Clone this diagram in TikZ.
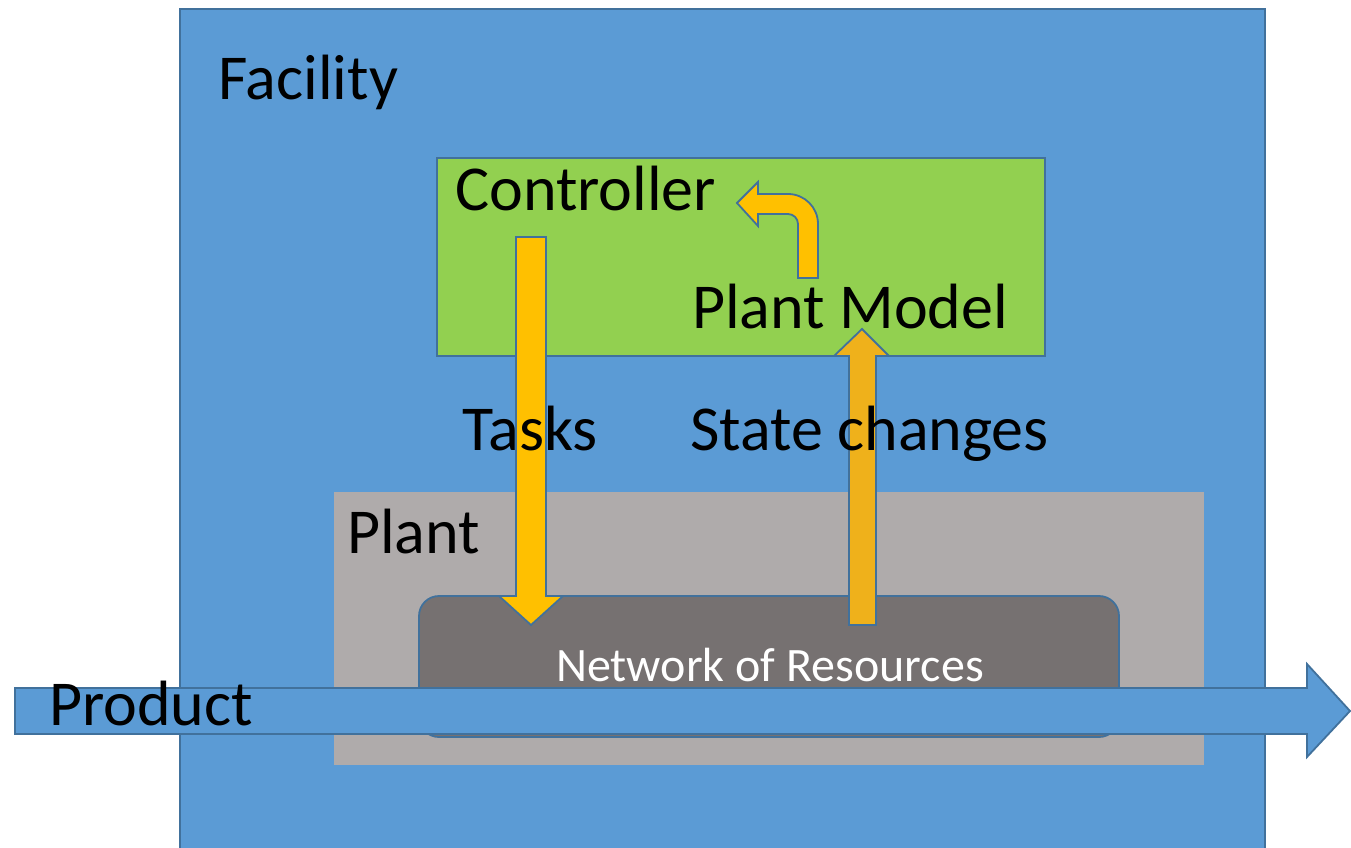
\documentclass[tikz,border=0pt]{standalone}
\usepackage{fontspec}
\setmainfont{Carlito}
\usetikzlibrary{positioning}

\definecolor{facilityblue}{HTML}{5B9BD5}
\definecolor{edgeblue}{HTML}{41719C}
\definecolor{ctrlgreen}{HTML}{92D050}
\definecolor{plantgray}{HTML}{AFABAB}
\definecolor{netgray}{HTML}{767171}
\definecolor{taskyellow}{HTML}{FFC000}
\definecolor{stateyellow}{HTML}{EFB11B}

\tikzset{
  box/.style={draw=edgeblue, line width=1.8pt, inner sep=0pt, anchor=north west},
  blockarrow/.style={draw=edgeblue, line width=1.8pt, line join=miter},
  biglabel/.style={inner sep=0pt, anchor=base west, font=\fontsize{64}{70}\selectfont},
}

\begin{document}
\begin{tikzpicture}[x=1pt,y=-1pt]
            \useasboundingbox (0,0) rectangle (1351,848);
            \clip (0,0) rectangle (1351,848);

            % Boxes
            \node[box, fill=facilityblue, minimum width=1085pt, minimum height=860pt] (facility) at (179,8) {};
            \node[box, fill=ctrlgreen, minimum width=608pt, minimum height=198pt] (controller) at (436,157) {};
            \node[box, draw=none, fill=plantgray, minimum width=870pt, minimum height=273pt] (plant) at (333,491) {};
            \draw[box, fill=netgray, rounded corners=20pt] (419,596) rectangle (1119,737); % resources

            % Model -> controller
            \fill[taskyellow, blockarrow] (798,278) -- (798,224) .. controls (798,218.5) and (793.5,214) .. (788,214)
                -- (758,214) -- (758,226) -- (737,203) -- (758,182) -- (758,194) -- (788,194)
                .. controls (804.6,194) and (818,207.4) .. (818,224) -- (818,278) -- cycle;

            % Tasks (down)
            \fill[taskyellow, blockarrow] (516,237) -- (546,237) -- (546,596) -- (563,596) -- (531,625)
                -- (499,596) -- (516,596) -- cycle;
            % State changes (up)
            \fill[stateyellow, blockarrow] (849,625) -- (849,356) -- (834,356) -- (862,329)
                -- (889,356) -- (876,356) -- (876,625) -- cycle;

            % Product flow
            \fill[facilityblue, blockarrow] (15,688) -- (1307,688) -- (1307,664) -- (1350,711)
                -- (1307,757) -- (1307,734) -- (15,734) -- cycle;

            % Labels
            \node[biglabel] (facilitylabel) at (218,100) {Facility};
            \node[biglabel] (controllerlabel) at (455,210) {Controller};
            \node[biglabel] (modellabel) at (692,328) {Plant Model};
            \node[biglabel] (taskslabel) at (462,450) {Tasks};
            \node[biglabel] (statelabel) at (690,450) {State changes};
            \node[biglabel] (plantlabel) at (347,553) {Plant};
            \node[inner sep=0pt, anchor=base west, text=white, font=\fontsize{48}{52}\selectfont] (netlabel) at (556,681) {Network of Resources};
            \node[biglabel] (productlabel) at (49,725) {Product};
        \end{tikzpicture}
\end{document}
